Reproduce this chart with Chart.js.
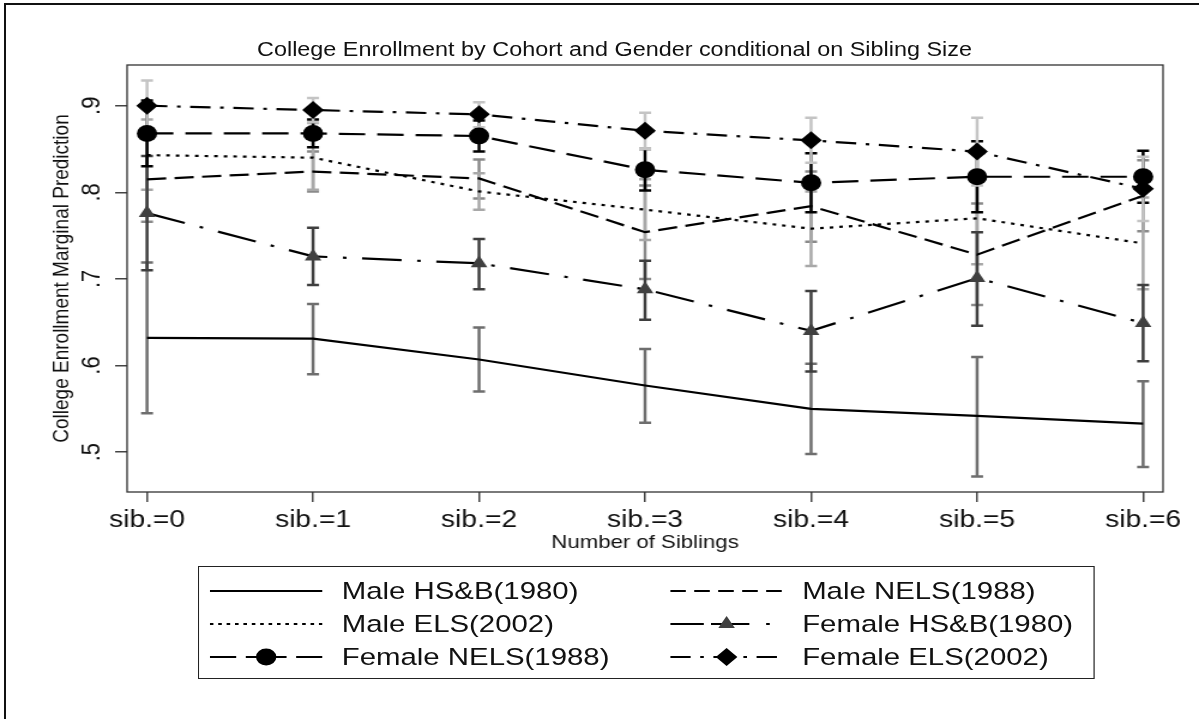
<!DOCTYPE html>
<html>
<head>
<meta charset="utf-8">
<script src="https://cdn.jsdelivr.net/npm/chart.js@4.4.1/dist/chart.umd.min.js"></script>
<style>
html, body { margin: 0; padding: 0; background: #fff; overflow: hidden; width: 1199px; height: 719px; }
#frame { position: absolute; left: 4px; top: 3px; width: 1300px; height: 800px; border-left: 2px solid #111; border-top: 2px solid #111; }
/* the original graph is stretched sideways, so draw it 1000 wide and scale it */
#wrap { position: absolute; left: 0; top: 0; width: 1000px; height: 719px; transform: scaleX(1.199); transform-origin: 0 0; font-family: "Liberation Sans", Arial, sans-serif; color: #111; }
#chart { position: absolute; left: 0; top: 0; }
#title { position: absolute; left: 0; width: 1025px; top: 40px; text-align: center; font-size: 19.5px; line-height: 19.5px; }
#legend { position: absolute; left: 165px; top: 566px; width: 748px; height: 113px; border: 1px solid #222; box-sizing: border-box; }
.item { position: absolute; height: 33px; display: flex; align-items: center; font-size: 24.5px; white-space: nowrap; }
.item svg { flex: none; margin-right: 16px; }
</style>
</head>
<body>
<div id="frame"></div>
<div id="wrap">
  <canvas id="chart" width="1000" height="719"></canvas>
  <div id="title">College Enrollment by Cohort and Gender conditional on Sibling Size</div>
  <div id="legend"></div>
</div>
<script>
// ===== data =====
var sibLabels = ['sib.=0', 'sib.=1', 'sib.=2', 'sib.=3', 'sib.=4', 'sib.=5', 'sib.=6'];
var yTickVals = [0.5, 0.6, 0.7, 0.8, 0.9];
var yTickLabels = ['.5', '.6', '.7', '.8', '.9'];
var seriesNames = ['Male HS&B(1980)', 'Male NELS(1988)', 'Male ELS(2002)', 'Female HS&B(1980)', 'Female NELS(1988)', 'Female ELS(2002)'];

var maleHSB     = [0.632, 0.631, 0.607, 0.577, 0.550, 0.542, 0.533];
var maleHSBLo   = [0.545, 0.590, 0.570, 0.534, 0.498, 0.472, 0.483];
var maleHSBHi   = [0.719, 0.671, 0.644, 0.619, 0.602, 0.610, 0.582];

var maleNELS    = [0.815, 0.824, 0.816, 0.754, 0.784, 0.728, 0.796];
var maleNELSLo  = [0.766, 0.801, 0.793, 0.700, 0.743, 0.670, 0.755];
var maleNELSHi  = [0.864, 0.847, 0.838, 0.808, 0.824, 0.787, 0.837];

var maleELS     = [0.843, 0.840, 0.801, 0.780, 0.758, 0.770, 0.741];
var maleELSLo   = [0.803, 0.803, 0.780, 0.745, 0.715, 0.717, 0.688];
var maleELSHi   = [0.884, 0.880, 0.822, 0.815, 0.801, 0.823, 0.794];

var femHSB      = [0.776, 0.726, 0.718, 0.688, 0.640, 0.701, 0.649];
var femHSBLo    = [0.710, 0.693, 0.688, 0.653, 0.593, 0.646, 0.605];
var femHSBHi    = [0.842, 0.759, 0.746, 0.721, 0.686, 0.754, 0.693];

var femNELS     = [0.868, 0.868, 0.865, 0.826, 0.811, 0.818, 0.818];
var femNELSLo   = [0.830, 0.852, 0.847, 0.802, 0.777, 0.777, 0.788];
var femNELSHi   = [0.906, 0.884, 0.883, 0.850, 0.845, 0.859, 0.848];

var femELS      = [0.900, 0.895, 0.890, 0.871, 0.860, 0.847, 0.804];
var femELSLo    = [0.871, 0.881, 0.875, 0.850, 0.834, 0.808, 0.767];
var femELSHi    = [0.929, 0.909, 0.904, 0.892, 0.886, 0.886, 0.841];

// ===== styles =====
var FONT = "'Liberation Sans', Arial, sans-serif";
var styles = [
  { dash: [],              key: [],                   point: false,      r: 0,   ci: '#6e6e6e' },
  { dash: [16, 7],         key: [13, 7],              point: false,      r: 0,   ci: '#8a8a8a' },
  { dash: [3, 5],          key: [3, 4],               point: false,      r: 0,   ci: '#a8a8a8' },
  { dash: [33, 13, 3, 13], key: [28, 6, 32, 14, 3, 30], point: 'triangle', r: 8,   ci: '#3e3e3e', fill: '#404040' },
  { dash: [22, 10],        key: [22, 8, 34, 8, 30],   point: 'circle',   r: 8.5, ci: '#000000', fill: '#000000' },
  { dash: [17, 8, 3, 8],   key: [17, 8, 3, 8],        point: 'rectRot',  r: 9,   ci: '#c4c4c4', fill: '#000000' }
];
var values = [maleHSB, maleNELS, maleELS, femHSB, femNELS, femELS];
var lows   = [maleHSBLo, maleNELSLo, maleELSLo, femHSBLo, femNELSLo, femELSLo];
var highs  = [maleHSBHi, maleNELSHi, maleELSHi, femHSBHi, femNELSHi, femELSHi];

function pts(vals) { return vals.map(function(v, i) { return { x: i, y: v }; }); }

var datasets = seriesNames.map(function(name, k) {
  var s = styles[k];
  return {
    label: name, data: pts(values[k]), ciLo: lows[k], ciHi: highs[k], ciColor: s.ci,
    borderColor: '#000', borderWidth: 2.2, borderDash: s.dash, fill: false, tension: 0,
    pointRadius: s.point ? s.r : 0, pointStyle: s.point || 'circle',
    pointBackgroundColor: s.fill || '#000', pointBorderColor: s.fill || '#000', pointBorderWidth: 0
  };
});

// confidence intervals as capped bars, under the lines
var ciBars = {
  id: 'ciBars',
  beforeDatasetsDraw: function(chart) {
    var ctx = chart.ctx, x = chart.scales.x, y = chart.scales.y;
    chart.data.datasets.forEach(function(ds) {
      ctx.save();
      ctx.strokeStyle = ds.ciColor; ctx.lineWidth = 2.5; ctx.setLineDash([]);
      ds.ciLo.forEach(function(lo, i) {
        var px = x.getPixelForValue(i), p1 = y.getPixelForValue(lo), p2 = y.getPixelForValue(ds.ciHi[i]);
        ctx.beginPath();
        ctx.moveTo(px, p1); ctx.lineTo(px, p2);
        ctx.moveTo(px - 5, p1); ctx.lineTo(px + 5, p1);
        ctx.moveTo(px - 5, p2); ctx.lineTo(px + 5, p2);
        ctx.stroke();
      });
      ctx.restore();
    });
  }
};

var plotFrame = {
  id: 'plotFrame',
  beforeDatasetsDraw: function(chart) {
    var a = chart.chartArea, ctx = chart.ctx;
    ctx.save();
    ctx.strokeStyle = '#333'; ctx.lineWidth = 1.3;
    ctx.strokeRect(a.left, a.top, a.right - a.left, a.bottom - a.top);
    ctx.restore();
  }
};

new Chart(document.getElementById('chart').getContext('2d'), {
  type: 'line',
  data: { datasets: datasets },
  plugins: [plotFrame, ciBars],
  options: {
    responsive: false, animation: false, devicePixelRatio: 1,
    layout: { padding: { left: 28, right: 30, top: 65, bottom: 165 } },
    plugins: { legend: { display: false }, tooltip: { enabled: false } },
    scales: {
      x: {
        type: 'linear', min: -0.12, max: 6.12,
        afterBuildTicks: function(s) { s.ticks = sibLabels.map(function(_, i) { return { value: i }; }); },
        afterFit: function(s) { s.height = 62; },
        border: { display: false },
        grid: { drawOnChartArea: false, drawTicks: true, tickLength: 10, color: '#444', lineWidth: 1.5 },
        ticks: { autoSkip: false, maxRotation: 0, padding: 4, color: '#111', font: { family: FONT, size: 23.5 },
          callback: function(v) { return sibLabels[v]; } },
        title: { display: true, text: 'Number of Siblings', color: '#111', font: { family: FONT, size: 18.5 }, padding: { top: 0, bottom: 0 } }
      },
      y: {
        type: 'linear', min: 0.454, max: 0.947,
        afterBuildTicks: function(s) { s.ticks = yTickVals.map(function(v) { return { value: v }; }); },
        afterFit: function(s) { s.width = 78; },
        border: { display: false },
        grid: { drawOnChartArea: false, drawTicks: true, tickLength: 10, color: '#444', lineWidth: 1.5 },
        ticks: { minRotation: 90, maxRotation: 90, crossAlign: 'center', padding: 10, color: '#111', font: { family: FONT, size: 22 },
          callback: function(v) { return yTickLabels[yTickVals.indexOf(v)]; } },
        title: { display: true, text: 'College Enrollment Marginal Prediction', color: '#111', font: { family: FONT, size: 19 }, padding: { top: 12, bottom: 0 } }
      }
    }
  }
});

// ===== legend (two columns, like the original) =====
function sampleSvg(s) {
  var w = 94, h = 26, c = h / 2, m = '';
  if (s.point === 'circle') m = '<circle cx="47" cy="' + c + '" r="' + s.r + '" fill="' + s.fill + '"/>';
  if (s.point === 'triangle') m = '<polygon points="47,' + (c - s.r) + ' ' + (47 - s.r * 0.866) + ',' + (c + s.r / 2) + ' ' + (47 + s.r * 0.866) + ',' + (c + s.r / 2) + '" fill="' + s.fill + '"/>';
  if (s.point === 'rectRot') m = '<polygon points="47,' + (c - s.r) + ' ' + (47 + s.r) + ',' + c + ' 47,' + (c + s.r) + ' ' + (47 - s.r) + ',' + c + '" fill="' + s.fill + '"/>';
  return '<svg width="' + w + '" height="' + h + '"><line x1="0" y1="' + c + '" x2="' + w + '" y2="' + c + '" stroke="#000" stroke-width="2.2"' +
    (s.key.length ? ' stroke-dasharray="' + s.key.join(',') + '"' : '') + '/>' + m + '</svg>';
}
var lg = document.getElementById('legend');
seriesNames.forEach(function(name, k) {
  var row = Math.floor(k / 2), col = k % 2;
  var d = document.createElement('div');
  d.className = 'item';
  d.style.left = (col ? 393 : 9) + 'px';
  d.style.top = (7.5 + row * 33) + 'px';
  d.innerHTML = sampleSvg(styles[k]) + '<span></span>';
  d.lastChild.textContent = name;
  lg.appendChild(d);
});
</script>
</body>
</html>
